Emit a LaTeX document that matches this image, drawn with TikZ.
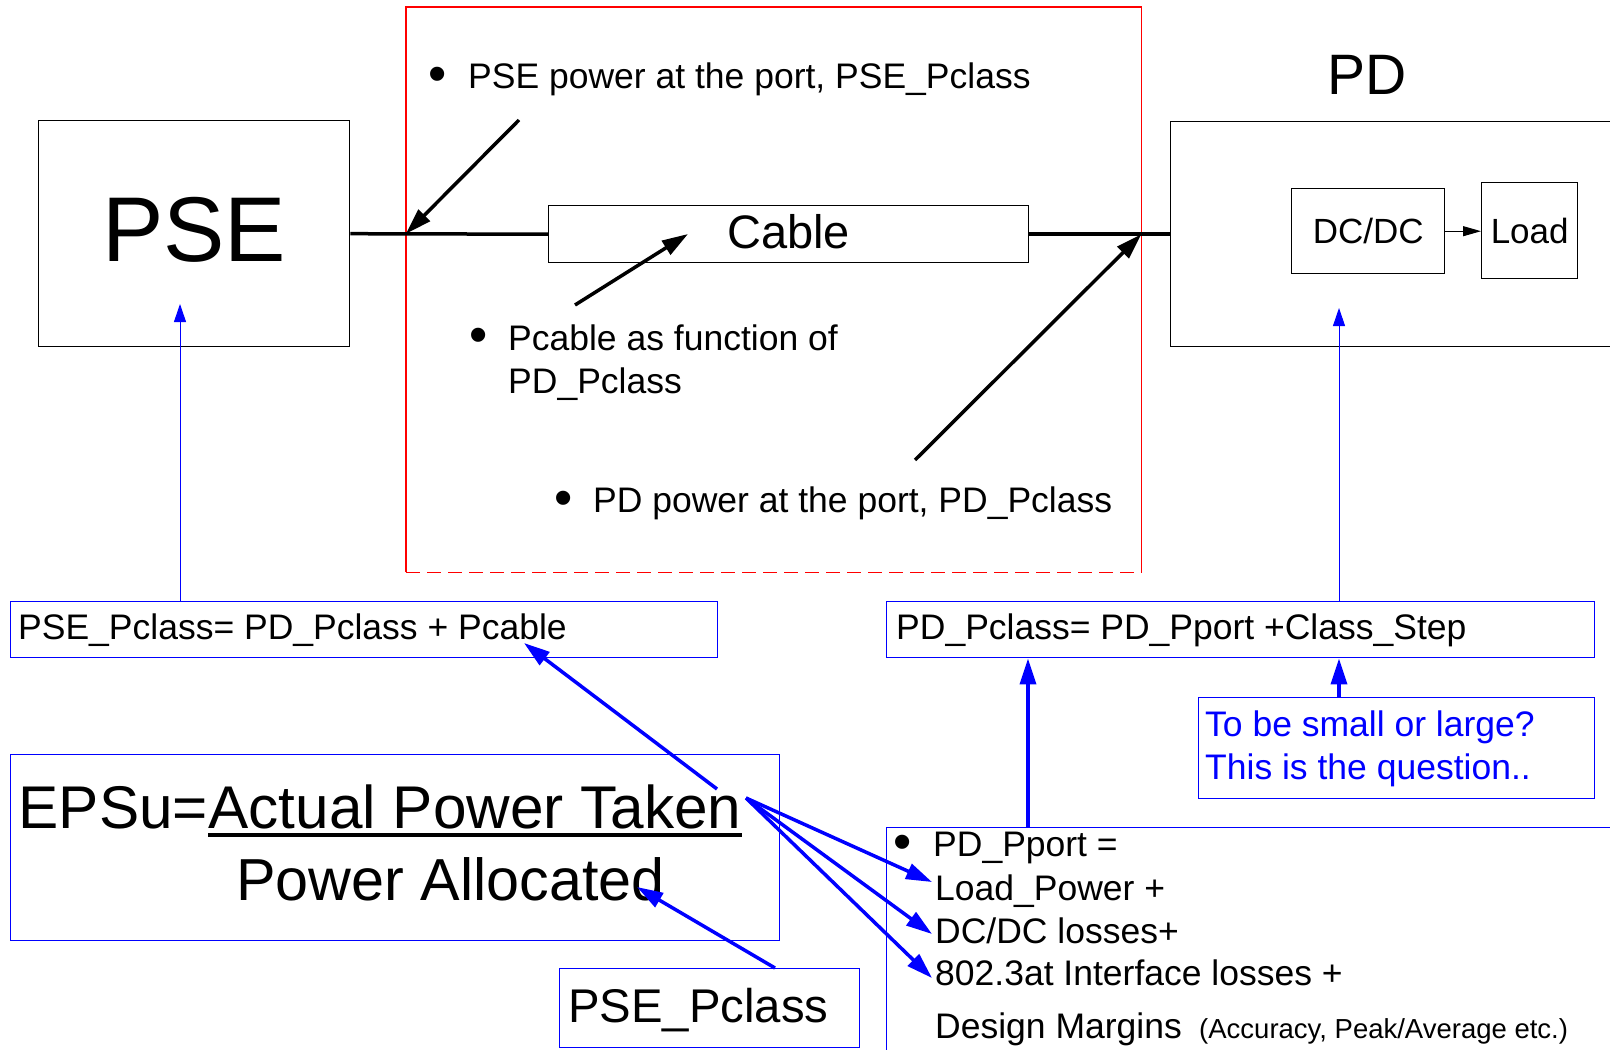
\documentclass[tikz,border=0pt]{standalone}
\usepackage{fontspec}
\setmainfont{Liberation Sans}
\usetikzlibrary{arrows.meta}
\newcommand\sz[1]{\fontsize{#1}{#1}\selectfont}
\begin{document}
\begin{tikzpicture}[x=1pt,y=-1pt,
  box/.style={draw=black,line width=1.4pt,inner sep=0pt,anchor=north west},
  bbox/.style={draw=blue,line width=1.4pt,inner sep=0pt,anchor=north west},
  txt/.style={inner sep=0pt,anchor=base west,font=\sz{35.5}},
  bul/.style={inner sep=0pt,anchor=center,font=\sz{52}},
  blk/.style={line width=3.5pt,black},
  barrow/.style={line width=3.5pt,black,-{Triangle[length=26pt,width=16pt]}},
  bluethick/.style={blue,line width=3.5pt,-{Triangle[length=26pt,width=16pt]}},
  bluethin/.style={blue,line width=1pt,-{Triangle[length=18pt,width=12pt]}},
]
\useasboundingbox (0,0) rectangle (1610,1050);
\fill[white] (0,0) rectangle (1610,1050);

% black boxes
\node[box,minimum width=311pt,minimum height=226pt,font=\sz{92},text depth=8pt] (pse) at (38,120) {PSE};
\node[box,minimum width=480pt,minimum height=57pt,font=\sz{47},text depth=6pt] (cable) at (548,205) {Cable};
\node[box,minimum width=470pt,minimum height=225pt] (pd) at (1170,121) {};
\node[box,minimum width=153pt,minimum height=85pt,font=\sz{35}] (dcdc) at (1291,188) {DC/DC};
\node[box,minimum width=96pt,minimum height=96pt,font=\sz{35}] (load) at (1481,182) {Load};
\node[inner sep=0pt,font=\sz{57}] (pdlabel) at (1367,75) {PD};

% red frame
\node[inner sep=0pt,anchor=north west,minimum width=735pt,minimum height=565pt] (frame) at (406,7) {};
\draw[red,line width=1.2pt] (frame.south west) |- (frame.north east) -- (frame.south east);
\draw[red,line width=1.2pt,dash pattern=on 14pt off 7pt] (frame.south west) -- (frame.south east);

% frame texts
\node[bul] (b1) at (438,79) {\textbullet};
\node[txt] (t1) at (468,88) {PSE power at the port, PSE\_Pclass};
\node[bul] (b2) at (479,340) {\textbullet};
\node[txt] (t2a) at (508,350) {Pcable as function of};
\node[txt] (t2b) at (508,393) {PD\_Pclass};
\node[bul] (b3) at (564,503) {\textbullet};
\node[txt] (t3) at (593,512) {PD power at the port, PD\_Pclass};

% main line
\draw[blk] (pse.east) -- (cable.west);
\draw[blk] (cable.east) -- (pd.west);
\draw[line width=1pt,-{Triangle[length=18pt,width=10pt]}] (dcdc.east) -- (dcdc.east -| load.west);

% black arrows
\coordinate (j1) at (frame.west |- pse.east);
\coordinate (j2) at (frame.east |- pd.west);
\coordinate (a1s) at (519,120);
\coordinate (a2s) at (575,305);
\coordinate (a2e) at (688,234);
\coordinate (a3s) at (915,460);
\draw[barrow] (a1s) -- (j1);
\draw[barrow] (a2s) -- (a2e);
\draw[barrow] (a3s) -- (j2);

% blue boxes
\node[bbox,minimum width=707pt,minimum height=56pt] (pseeq) at (10,601) {};
\node[txt] (pseeqt) at (18,639) {PSE\_Pclass= PD\_Pclass + Pcable};
\node[bbox,minimum width=769pt,minimum height=186pt] (epsu) at (10,754) {};
\node[txt,font=\sz{60.3}] (eps) at (18.5,828) {EPSu=};
\node[txt,font=\sz{60.3}] (apt) at (eps.base east) {Actual Power Taken};
\draw[line width=3.5pt] ([yshift=-7pt]apt.base west) -- ([yshift=-7pt]apt.base east);
\node[txt,font=\sz{59.3}] (alloc) at (236,900) {Power Allocated};
\node[bbox,minimum width=300pt,minimum height=79pt] (pclassbox) at (559,968) {};
\node[txt,font=\sz{47.3}] (pclasst) at (568,1022) {PSE\_Pclass};

\node[bbox,minimum width=708pt,minimum height=56pt] (pdeq) at (886,601) {};
\node[txt] (pdeqt) at (896,639) {PD\_Pclass= PD\_Pport +Class\_Step};
\node[bbox,minimum width=396pt,minimum height=101pt] (question) at (1198,697) {};
\node[txt,text=blue] (q1) at (1205,736) {To be small or large?};
\node[txt,text=blue] (q2) at (1205,779) {This is the question..};
\node[bbox,minimum width=740pt,minimum height=240pt] (pport) at (886,827) {};
\node[bul] (b4) at (903,847) {\textbullet};
\node[txt] (p1) at (933,856) {PD\_Pport =};
\node[txt] (p2) at (935,900) {Load\_Power +};
\node[txt] (p3) at (935,943) {DC/DC losses+};
\node[txt] (p4) at (935,985) {802.3at Interface losses +};
\node[txt] (p5) at (935,1038) {Design Margins};
\node[txt,font=\sz{27.5}] (p6) at (1199,1038) {(Accuracy, Peak/Average etc.)};

% blue connectors
\coordinate (psetip) at (180,304);
\coordinate (pdtip) at (1339,308);
\coordinate (c1) at (1028,700);
\draw[bluethin] (pseeq.north -| psetip) -- (psetip);
\draw[bluethin] (pdeq.north -| pdtip) -- (pdtip);
\draw[bluethick] (pport.north -| c1) -- (pdeq.south -| c1);
\draw[bluethick] (question.north -| pdtip) -- (pdeq.south -| pdtip);
\coordinate (tk) at (717,789);
\coordinate (tkend) at (524,643);
\draw[bluethick] (tk) -- (tkend);
\coordinate (pcs) at (775,968);
\coordinate (al) at (637,887);
\draw[bluethick] (pcs) -- (al);
\coordinate (fan) at (746,798);
\draw[bluethick] (fan) -- (932,882);
\draw[bluethick] (fan) -- (932,934);
\draw[bluethick] (fan) -- (932,978);
\end{tikzpicture}
\end{document}
